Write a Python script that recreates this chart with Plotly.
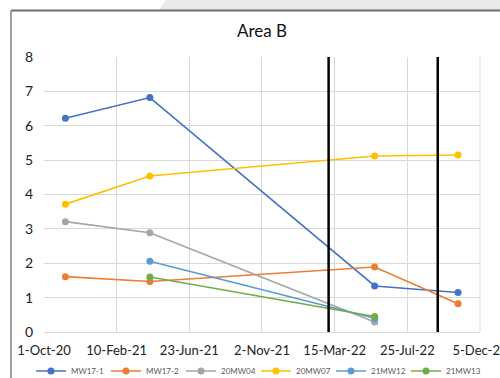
import plotly.graph_objects as go
import pandas as pd

dates4 = ["2020-11-09", "2021-04-12", "2022-05-27", "2022-10-26"]
dates_mid = ["2021-04-12", "2022-05-27"]
dates3 = ["2020-11-09", "2021-04-12", "2022-05-27"]

series = [
    ("MW17-1", dates4, [6.22, 6.82, 1.34, 1.15], "#4472C4"),
    ("MW17-2", dates4, [1.61, 1.47, 1.89, 0.82], "#ED7D31"),
    ("20MW04", dates3, [3.21, 2.89, 0.29], "#A5A5A5"),
    ("20MW07", dates4, [3.72, 4.54, 5.12, 5.15], "#FFC000"),
    ("21MW12", dates_mid, [2.06, 0.40], "#5B9BD5"),
    ("21MW13", dates_mid, [1.60, 0.45], "#70AD47"),
]

event_dates = ["2022-03-04", "2022-09-19"]
tick_labels = ["1-Oct-20", "10-Feb-21", "23-Jun-21", "2-Nov-21", "15-Mar-22", "25-Jul-22", "5-Dec-22"]
base = pd.Timestamp("2020-10-01")
tick_vals = [(base + pd.Timedelta(hours=132.5 * 24 * k)).strftime("%Y-%m-%d %H:%M") for k in range(len(tick_labels))]
x_range = ["2020-10-01 00:00", "2022-12-05 01:00"]

font = "Lato, 'Liberation Sans', sans-serif"

fig = go.Figure()
for name, xs, ys, col in series:
    fig.add_trace(go.Scatter(
        x=xs, y=ys, name=name, mode="lines+markers",
        line=dict(color=col, width=1.6),
        marker=dict(color=col, size=7),
    ))

for d in event_dates:
    fig.add_shape(type="line", xref="x", yref="paper", x0=d, x1=d, y0=0, y1=1,
                  line=dict(color="black", width=2.5))

# page frame (paper coords)
L, R, T, B = 44, 20, 57, 46
W, H = 500, 378
pw, ph = W - L - R, H - T - B
def px(x):
    return (x - L) / pw
def py(y):
    return (H - B - y) / ph

# right plot border (Excel draws the outer gridline)
fig.add_shape(type="line", xref="paper", yref="paper", x0=1, x1=1, y0=0, y1=1,
              line=dict(color="#d9d9d9", width=1), layer="below")
fig.add_shape(type="path", xref="paper", yref="paper",
              path=f"M {px(166)},{py(0)} L {px(500)},{py(0)} L {px(500)},{py(10)} L {px(159)},{py(10)} Z",
              fillcolor="#e9e9e9", line=dict(width=0), layer="below")
fig.add_shape(type="line", xref="paper", yref="paper", x0=px(11), x1=px(500), y0=py(10.5), y1=py(10.5),
              line=dict(color="#6f6f6f", width=2))
fig.add_shape(type="line", xref="paper", yref="paper", x0=px(11), x1=px(11), y0=py(10.5), y1=py(378),
              line=dict(color="#7f7f7f", width=1.5))

fig.update_layout(
    width=W, height=H,
    margin=dict(l=L, r=R, t=T, b=B, autoexpand=False),
    paper_bgcolor="white", plot_bgcolor="white",
    title=dict(text="Area B", x=(L + pw / 2) / W, xanchor="center", y=1 - 31 / H, yanchor="middle",
               font=dict(family=font, size=17, color="#111111")),
    font=dict(family=font, color="#222222"),
    showlegend=True,
    legend=dict(orientation="h", x=px(31), xref="paper", xanchor="left",
                y=py(371), yref="paper", yanchor="middle", bgcolor="rgba(0,0,0,0)",
                font=dict(size=8, color="#595959"), itemwidth=30, tracegroupgap=0,
                entrywidth=30, entrywidthmode="pixels"),
    xaxis=dict(type="date", range=x_range, tickvals=tick_vals, ticktext=tick_labels,
               showgrid=True, gridcolor="#d9d9d9", gridwidth=1,
               showline=True, linecolor="#d9d9d9", mirror=False,
               tickfont=dict(size=13, color="#222222"), ticks="", zeroline=False,
               ticklabelstandoff=6, ticklabeloverflow="allow"),
    yaxis=dict(range=[0, 8], dtick=1, showgrid=True, gridcolor="#d9d9d9", gridwidth=1,
               zeroline=False, showline=False, ticks="",
               tickfont=dict(size=14, color="#222222"), ticklabelstandoff=10),
)

fig.write_html("out.html", config={"displayModeBar": False},
               post_script="document.body.style.margin='0';document.body.style.overflow='hidden';")
